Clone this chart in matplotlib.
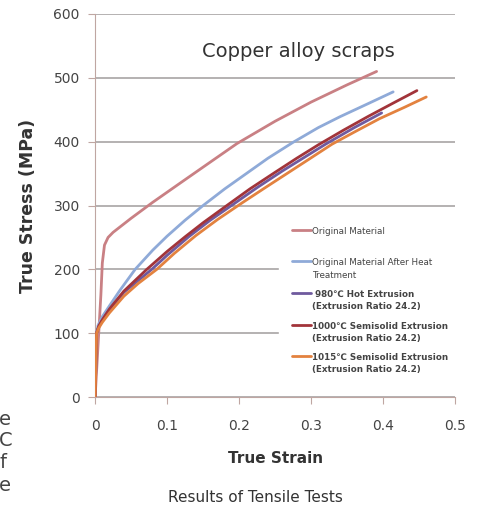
import matplotlib.pyplot as plt
from matplotlib.legend_handler import HandlerLine2D

# strain / stress
orig_x = [0, 0.004, 0.008, 0.010, 0.013, 0.018, 0.025, 0.05, 0.08, 0.118, 0.16, 0.197, 0.25, 0.30, 0.35, 0.391]
orig_y = [0, 80, 160, 210, 238, 250, 258, 280, 305, 335, 368, 397, 432, 462, 489, 510]

heat_x = [0, 0.002, 0.004, 0.010, 0.020, 0.035, 0.0556, 0.08, 0.10, 0.125, 0.15, 0.18, 0.21,
          0.24, 0.275, 0.31, 0.34, 0.38, 0.414]
heat_y = [0, 100, 112, 126, 143, 168, 200, 230, 252, 277, 300, 326, 350, 374, 399, 422, 439, 460, 478]

hot980_x = [0, 0.002, 0.005, 0.010, 0.020, 0.040, 0.0787, 0.10, 0.13, 0.16, 0.192, 0.225, 0.26,
            0.29, 0.32, 0.36, 0.398]
hot980_y = [0, 100, 110, 120, 137, 164, 200, 222, 251, 277, 302, 328, 354, 375, 396, 422, 445]

semi1000_x = [0, 0.002, 0.005, 0.010, 0.020, 0.040, 0.0718, 0.10, 0.125, 0.15, 0.183, 0.215, 0.25,
              0.28, 0.31, 0.345, 0.38, 0.415, 0.447]
semi1000_y = [0, 100, 111, 121, 138, 166, 200, 228, 251, 273, 300, 326, 352, 374, 395, 418, 440, 461, 480]

semi1015_x = [0, 0.002, 0.005, 0.010, 0.020, 0.040, 0.06, 0.0857, 0.11, 0.14, 0.17, 0.204, 0.235,
              0.265, 0.295, 0.329, 0.36, 0.395, 0.43, 0.46]
semi1015_y = [0, 100, 108, 117, 132, 158, 178, 200, 225, 253, 278, 304, 327, 349, 371, 396, 415, 436, 454, 470]

labels = ["Original Material\n ",
          "Original Material After Heat\nTreatment",
          " 980\u2103 Hot Extrusion\n(Extrusion Ratio 24.2)",
          "1000\u2103 Semisolid Extrusion\n(Extrusion Ratio 24.2)",
          "1015\u2103 Semisolid Extrusion\n(Extrusion Ratio 24.2)"]
colors = ["#C98084", "#8FAAD8", "#6F5A9E", "#A2343A", "#E3823F"]


class FirstLineHandler(HandlerLine2D):
    # put the legend line next to the first text line, not the middle
    def create_artists(self, legend, orig_handle, xdescent, ydescent, width, height, fontsize, trans):
        return super().create_artists(legend, orig_handle, xdescent, ydescent - 11.5, width, height,
                                      fontsize, trans)


fig = plt.figure(figsize=(4.78, 5.09), dpi=100)
ax = fig.add_axes([0.199, 0.22, 0.753, 0.7525])

series = [(orig_x, orig_y), (heat_x, heat_y), (hot980_x, hot980_y),
          (semi1000_x, semi1000_y), (semi1015_x, semi1015_y)]
lines = []
for (xs, ys), lab, c in zip(series, labels, colors):
    l, = ax.plot(xs, ys, color=c, lw=2, label=lab, solid_capstyle='round', zorder=3)
    lines.append(l)

ax.set_xlim(0, 0.5)
ax.set_ylim(0, 600)
ax.set_xticks([0, 0.1, 0.2, 0.3, 0.4, 0.5])
ax.set_xticklabels(["0", "0.1", "0.2", "0.3", "0.4", "0.5"])
ax.set_yticks(range(0, 601, 100))
ax.grid(axis='y', color='#A8A4A4', lw=1.2)
ax.set_axisbelow(True)
for s in ['top', 'right']:
    ax.spines[s].set_visible(False)
for s in ['left', 'bottom']:
    ax.spines[s].set_color('#BFA6A2')
ax.tick_params(axis='both', colors='#BFA6A2', labelcolor='#444444', labelsize=10, length=5)
ax.tick_params(axis='x', pad=11)
ax.tick_params(axis='y', pad=6)

ax.set_xlabel("True Strain", fontsize=11, fontweight='bold', color='#333333', labelpad=13)
ax.set_ylabel("True Stress (MPa)", fontsize=12.5, fontweight='bold', color='#333333', labelpad=12)

ax.text(0.282, 541, "Copper alloy scraps", fontsize=14, color='#333333', ha='center', va='center')

leg = ax.legend(handles=lines, loc='upper left', bbox_to_anchor=(0.5, 0.488),
                fontsize=6.3, frameon=True, facecolor='white', edgecolor='white',
                framealpha=1, handlelength=2.2, handletextpad=0.1,
                labelspacing=1.2, borderpad=1.4, fancybox=False,
                handler_map={l: FirstLineHandler() for l in lines})
leg.set_zorder(2)
for i, t in enumerate(leg.get_texts()):
    t.set_color('#444444')
    t.set_linespacing(1.45)
    if i >= 2:
        t.set_fontweight('bold')

fig.text(0.534, 0.014, "Results of Tensile Tests", fontsize=11, color='#333333', ha='center')

# cut-off text from the neighbouring page column
for ch, yy in zip(["e", "C", "f", "e"], [0.166, 0.123, 0.080, 0.035]):
    fig.text(-0.002, yy, ch, fontsize=14, color='#444444')

fig.savefig("out.png", dpi=100)
